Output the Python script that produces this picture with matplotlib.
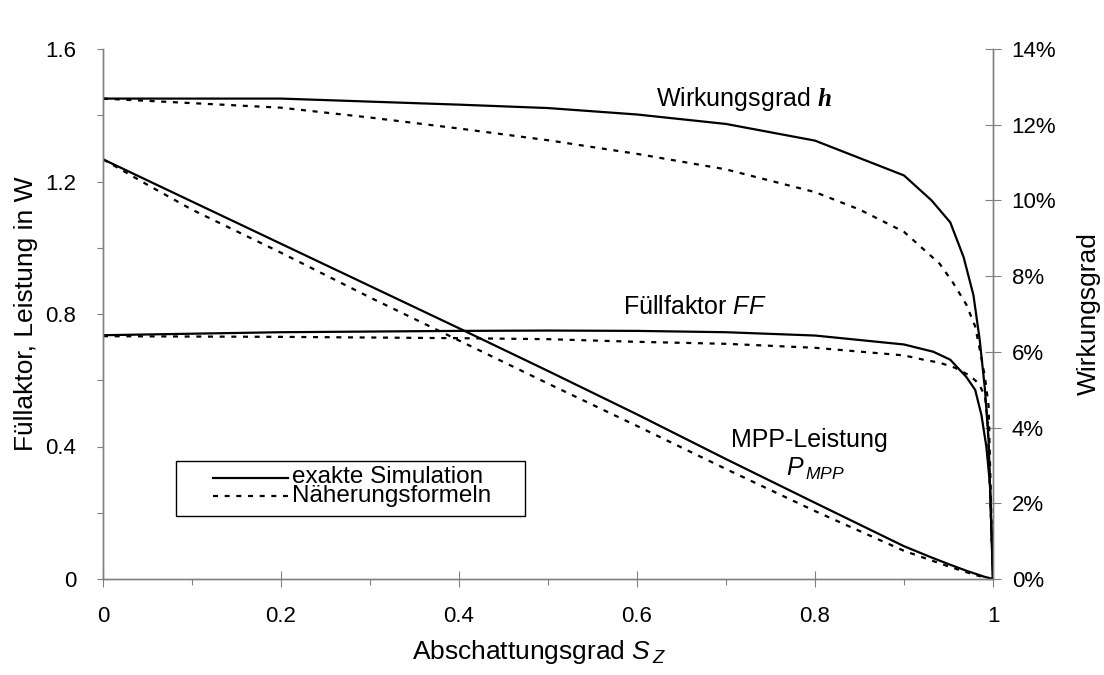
import matplotlib

matplotlib.use("Agg")
import matplotlib.pyplot as plt
from matplotlib.patches import Rectangle
from matplotlib.ticker import FixedLocator, FuncFormatter, MultipleLocator

plt.rcParams["font.family"] = ["Liberation Sans", "DejaVu Sans"]
plt.rcParams["mathtext.fontset"] = "custom"
plt.rcParams["mathtext.rm"] = "Liberation Sans"
plt.rcParams["mathtext.it"] = "Liberation Sans:italic"
plt.rcParams["mathtext.bfit"] = "Liberation Serif:italic:bold"
plt.rcParams["lines.scale_dashes"] = False

# Wirkungsgrad (efficiency, %), right axis
eff_sim_x = [0, 0.2, 0.4, 0.5, 0.6, 0.7, 0.8, 0.9, 0.931, 0.952, 0.967, 0.978, 0.985, 0.991, 0.995, 1.0]
eff_sim_y = [12.69, 12.69, 12.53, 12.44, 12.27, 12.02, 11.58, 10.66, 10.0, 9.42, 8.5, 7.5, 6.33, 5.0, 3.67, 0.0]
eff_apx_x = [0, 0.1, 0.2, 0.3, 0.4, 0.5, 0.6, 0.7, 0.8, 0.85, 0.9, 0.92, 0.94, 0.955, 0.97, 0.98, 0.985,
             0.991, 0.995, 1.0]
eff_apx_y = [12.69, 12.57, 12.45, 12.19, 11.90, 11.59, 11.23, 10.82, 10.22, 9.76, 9.17, 8.75, 8.33, 7.83,
             7.25, 6.67, 6.08, 5.33, 4.58, 0.0]

# Fuellfaktor FF, left axis
ff_sim_x = [0, 0.2, 0.4, 0.5, 0.6, 0.7, 0.8, 0.9, 0.933, 0.952, 0.97, 0.98, 0.987, 0.9925, 0.9966, 1.0]
ff_sim_y = [0.736, 0.745, 0.749, 0.75, 0.749, 0.745, 0.735, 0.708, 0.686, 0.662, 0.61, 0.571, 0.495, 0.40,
            0.286, 0.0]
ff_apx_x = [0, 0.1, 0.2, 0.3, 0.4, 0.5, 0.6, 0.7, 0.8, 0.9, 0.922, 0.94, 0.957, 0.974, 0.984, 0.991, 0.994, 1.0]
ff_apx_y = [0.733, 0.732, 0.731, 0.729, 0.727, 0.724, 0.716, 0.71, 0.698, 0.675, 0.662, 0.653, 0.638, 0.614,
            0.59, 0.552, 0.476, 0.0]

# MPP-Leistung in W, left axis
pmpp_sim_x = [0, 0.2, 0.4, 0.5, 0.6, 0.7, 0.8, 0.9, 0.93, 0.95, 0.97, 0.99, 1.0]
pmpp_sim_y = [1.267, 1.012, 0.757, 0.628, 0.497, 0.362, 0.23, 0.099, 0.066, 0.045, 0.025, 0.007, 0.0]
pmpp_apx_x = [0, 0.05, 0.1, 0.2, 0.3, 0.4, 0.5, 0.6, 0.7, 0.8, 0.9, 0.95, 0.98, 1.0]
pmpp_apx_y = [1.267, 1.19, 1.115, 0.985, 0.85, 0.72, 0.59, 0.462, 0.332, 0.205, 0.085, 0.038, 0.012, 0.0]

legend_labels = ["exakte Simulation", "Näherungsformeln"]

SPINE = "#808080"
LW = 1.6
DOTS = (0, (3.6, 4.8))

fig = plt.figure(figsize=(11.04, 6.75), dpi=100)
ax = fig.add_axes([103 / 1104, 96 / 675, 890 / 1104, 530 / 675])
ax2 = ax.twinx()

ax.plot(ff_sim_x, ff_sim_y, color="black", lw=LW)
ax.plot(ff_apx_x, ff_apx_y, color="black", lw=LW, linestyle=DOTS)
ax.plot(pmpp_sim_x, pmpp_sim_y, color="black", lw=LW)
ax.plot(pmpp_apx_x, pmpp_apx_y, color="black", lw=LW, linestyle=DOTS)
ax2.plot(eff_sim_x, eff_sim_y, color="black", lw=LW)
ax2.plot(eff_apx_x, eff_apx_y, color="black", lw=LW, linestyle=DOTS)

ax.set_xlim(0, 1)
ax.set_ylim(0, 1.6)
ax2.set_ylim(0, 14)

for a in (ax, ax2):
    a.spines["top"].set_visible(False)
    for side in ("left", "right", "bottom"):
        a.spines[side].set_color(SPINE)
        a.spines[side].set_linewidth(1.0)

ax.xaxis.set_major_locator(MultipleLocator(0.2))
ax.xaxis.set_minor_locator(MultipleLocator(0.1))
ax.xaxis.set_major_formatter(FuncFormatter(lambda v, _: f"{v:g}"))
ax.yaxis.set_major_locator(FixedLocator([0, 0.4, 0.8, 1.2, 1.6]))
ax.yaxis.set_minor_locator(FixedLocator([0.2, 0.6, 1.0, 1.4]))
ax.yaxis.set_major_formatter(FuncFormatter(lambda v, _: f"{v:g}"))
ax2.yaxis.set_major_locator(MultipleLocator(2))
ax2.yaxis.set_major_formatter(FuncFormatter(lambda v, _: f"{v:.0f}%"))

ax.tick_params(axis="x", which="major", direction="inout", length=11.5, width=0.8, color=SPINE,
               pad=13.5, labelsize=16)
ax.tick_params(axis="x", which="minor", direction="out", length=4.3, width=0.8, color=SPINE)
ax.tick_params(axis="y", which="major", direction="out", length=4.3, width=0.8, color=SPINE,
               pad=15, labelsize=16)
ax.tick_params(axis="y", which="minor", direction="out", length=4.3, width=0.8, color=SPINE)
ax2.tick_params(axis="y", which="major", direction="inout", length=11.5, width=0.8, color=SPINE,
                pad=7.7, labelsize=16)

ax.set_xlabel("Abschattungsgrad $S_{\\,Z}$", fontsize=19)
ax.xaxis.set_label_coords(0.49, -0.112)
ax.set_ylabel("Füllaktor, Leistung in W", fontsize=19)
ax.yaxis.set_label_coords(-0.073, 0.5)
ax2.set_ylabel("Wirkungsgrad", fontsize=19)
ax2.yaxis.set_label_coords(1.094, 0.5)

ax.text(0.72, 1.428, "Wirkungsgrad $\\mathbfit{h}$", fontsize=18, ha="center", va="baseline")
ax.text(0.665, 0.80, "Füllfaktor $FF$", fontsize=18, ha="center", va="baseline")
ax.text(0.794, 0.40, "MPP-Leistung", fontsize=18, ha="center", va="baseline")
ax.text(0.80, 0.312, "$P_{\\,MPP}$", fontsize=18, ha="center", va="baseline")

# legend drawn by hand (data coords) to match the tight Excel-style layout
legend_rows = [0.306, 0.252]
ax.add_patch(Rectangle((0.082, 0.191), 0.392, 0.166, facecolor="white",
                       edgecolor="black", lw=1.0, zorder=5))
for row_y, style in zip(legend_rows, ["-", DOTS]):
    ax.plot([0.1236, 0.2079], [row_y, row_y], color="black", lw=LW, linestyle=style, zorder=6)
ax.text(0.2125, sum(legend_rows) / 2, "\n".join(legend_labels), fontsize=17.5, ha="left",
        va="center", linespacing=0.78, zorder=6)

fig.savefig("out.png", dpi=100)
